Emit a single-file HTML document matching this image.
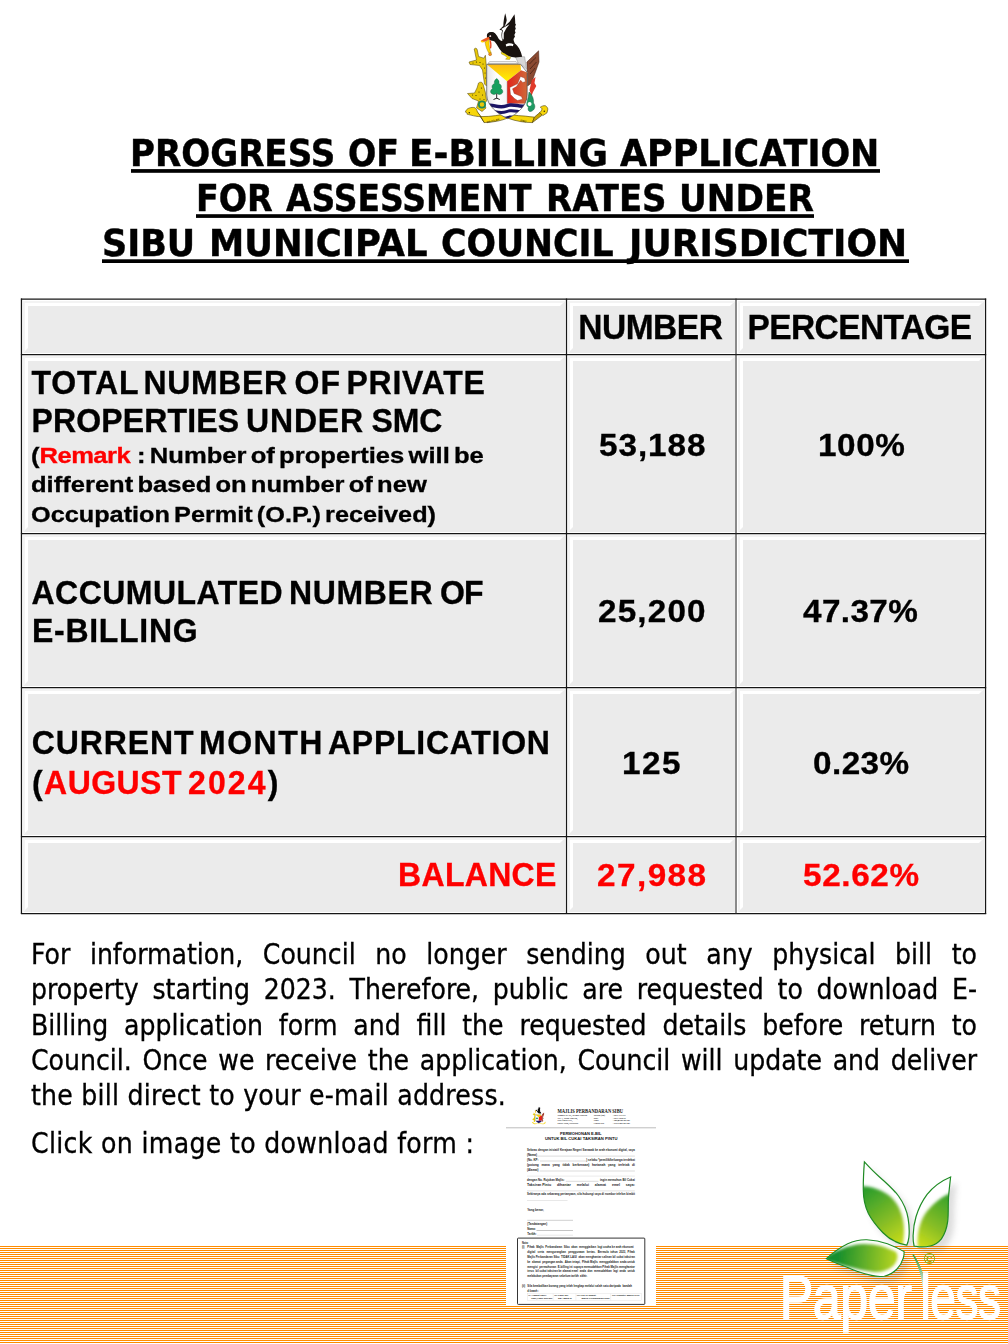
<!DOCTYPE html>
<html lang="en"><head><meta charset="utf-8"><title>Progress of E-Billing Application</title>
<style>
html,body{margin:0;padding:0;background:#fff}
body{width:1008px;height:1344px;position:relative;overflow:hidden;color:#000}
.t{position:absolute;white-space:pre;line-height:1;transform-origin:0 50%}
.ls{font-family:'Liberation Sans', Arial, sans-serif;-webkit-text-stroke:.32px currentColor}
.dv{font-family:'DejaVu Sans', 'Liberation Sans', sans-serif;-webkit-text-stroke:.45px #000}
.ttl{position:absolute;left:5px;width:1000px;text-align:center;line-height:1;font-family:'DejaVu Sans', 'Liberation Sans', sans-serif;font-weight:bold;white-space:pre}
.ttl span{display:inline-block;text-decoration:underline;text-decoration-thickness:3.6px;text-underline-offset:3.4px;text-decoration-skip-ink:none}
.cell{position:absolute;box-sizing:border-box;background:#ebebeb;border-style:solid;border-width:6px;border-color:#fff #ebebeb #ebebeb #fff}
.cell::before{content:'';position:absolute;left:-6px;top:-6px;right:-6px;bottom:-6px;border:1px solid #fff}
.cell::after{content:'';position:absolute;left:-5px;top:-5px;right:-5px;bottom:-5px;border-style:solid;border-width:2px;border-color:#f3f3f3 transparent transparent #f3f3f3}
.grid line{stroke:#161616;stroke-width:1.25}
.p{position:absolute;left:30.8px;width:946px;line-height:1;font-family:'DejaVu Sans Condensed', 'DejaVu Sans', 'Liberation Sans', sans-serif;white-space:nowrap;will-change:transform;-webkit-text-stroke:.3px #000}
.p.j{text-align:justify;text-align-last:justify;white-space:normal}
.stripes{position:absolute;left:0;top:1246px;width:1008px;height:98px;background:repeating-linear-gradient(to bottom,#ff8c00 0,#ff8c00 1px,#fff 1px,#fff 2px)}
.lay{position:absolute;left:0;top:0;width:1008px;height:1344px;will-change:transform}
svg{position:absolute;overflow:visible}
</style></head>
<body>
<div class="stripes"></div>
<svg class="crest" style="left:0;top:0" width="1008" height="135" viewBox="0 0 1008 135">
<defs>
<linearGradient id="cy" x1="0" y1="0" x2="0" y2="1"><stop offset="0" stop-color="#fdb913"/><stop offset="1" stop-color="#fff200"/></linearGradient>
<linearGradient id="cr" x1="0" y1="0" x2="1" y2="0"><stop offset="0" stop-color="#e2231a"/><stop offset="1" stop-color="#cf6a3a"/></linearGradient>
<linearGradient id="cw" x1="0" y1="0" x2="1" y2="0"><stop offset="0" stop-color="#e4e4e4"/><stop offset=".5" stop-color="#fff"/><stop offset="1" stop-color="#f4f4f4"/></linearGradient>
<clipPath id="shc"><path d="M486.7 64.3H520.6L527.2 72.3V95C527 106 517 114 507.6 118.6C498 114 487 106 486.7 95Z"/></clipPath>
</defs>
<!-- ribbon -->
<g fill="#f7d60a" stroke="#3a3000" stroke-width=".55" stroke-linejoin="round">
<path d="M476.500 111.200L484.300 122.600L480.800 116.600Z" fill="#c9a400"/>
<path d="M465.400 112.100C466 110 467.300 108.700 468.900 108.200C471 107.300 473.200 107.200 474.800 107.700C476.200 108.700 477 110 477.300 111.600L480.800 116.600C477.500 116.700 474 116 470.900 115.100C469.300 114.800 468 114.500 466.900 114.100C467.300 113.300 467.200 112.600 465.400 112.100Z"/>
<path d="M480.800 116.600C486 116.700 491 116.300 495.700 115.600C498.500 115.200 501.200 114.700 503.600 114.100L507.600 118.100C504.500 119.400 501.200 120.400 497.700 121.100C493.300 122 488.800 122.500 484.300 122.600Z"/>
<path d="M511.600 114.600C516 115.500 520.800 116 525.400 116.100C528.500 116.600 531.500 116.900 534.400 117.100L532.400 122.600C528.300 122.600 524.300 122.300 520.500 121.600C516 120.800 511.600 119.600 507.600 118.100Z"/>
<path d="M534.400 117.100L540.300 112.100L542.300 115.100L532.400 122.600Z" fill="#c9a400"/>
<path d="M540.300 107.200C541.800 106 543.600 105.500 545.300 105.700C546.800 106.500 547.700 107.700 547.800 109.200C547.700 110.600 547.300 111.900 546.800 113.100L542.800 115.600L539.800 112.600C541 111.500 541.800 110.200 542 108.800C541.600 108.100 541 107.500 540.300 107.200Z"/>
</g>
<circle cx="469.300" cy="112.800" r=".8" fill="#3a3000"/><circle cx="544.300" cy="111.300" r=".8" fill="#3a3000"/>
<!-- left supporter (gold kris / ornament) -->
<g fill="#e8c80a" stroke="#4a3c00" stroke-width=".5">
<path d="M474.2 49C475 47.5 477 48 477.3 50L478.6 56.5L483.8 58.2L485.4 55.3L486.3 66L486.5 86L484.5 84L482.5 70L479.5 65.5L470 64.5L469 62L476.5 60Z"/>
<path d="M478.5 83C480 81.5 482.5 82 483 84L485.3 92L486.6 101L484 104L486 108L482 111.5L476.5 108L478.5 101L472 98.5L467.5 93.5L474.5 93L477 88Z"/>
</g>
<g fill="#3a3000"><circle cx="476.5" cy="62" r=".6"/><circle cx="480" cy="62.5" r=".55"/><circle cx="483" cy="64" r=".6"/><circle cx="484.5" cy="68" r=".55"/><circle cx="485" cy="73" r=".5"/><circle cx="485.5" cy="78" r=".5"/><circle cx="473" cy="63" r=".5"/><circle cx="481.5" cy="88" r=".6"/><circle cx="479" cy="92" r=".6"/><circle cx="476" cy="95.5" r=".55"/><circle cx="482.5" cy="95" r=".55"/><circle cx="472.5" cy="95" r=".5"/><circle cx="480" cy="99" r=".55"/><circle cx="484" cy="99.5" r=".5"/></g>
<circle cx="482" cy="104.5" r="3.2" fill="none" stroke="#1f8a5a" stroke-width="1.7"/><circle cx="482" cy="104.5" r="1.2" fill="#e8c80a"/>
<!-- right: paddle + plant -->
<path d="M526.9 62L538.6 50.8L539 62L531.5 83L527.6 86Z" fill="#8a4a32" stroke="#3a1a10" stroke-width=".5"/>
<path d="M529.5 64c2-2 4.5-5 6.5-6.5M530 69c2-2 4.500-5 6.5-7M530 74c1.500-1.500 3.500-4 5-6" fill="none" stroke="#3a1a10" stroke-width=".7"/>
<path d="M531.8 80L535.5 77L534.5 83L536.3 86L533 92L531.5 96L529.5 90Z" fill="#e03a2a"/>
<path d="M529 92C531.500 94 534 98 533.500 103C536 106 535 110 531 111.500C528.500 112 527.500 109.500 528.500 107C527 104 527 100 528.300 97Z" fill="#1f9a64" stroke="#0a4a2a" stroke-width=".4"/>
<circle cx="529.6" cy="104" r="2.6" fill="#fff" stroke="#1f9a64" stroke-width="1.2"/>
<!-- shield -->
<path d="M489.5 61.7H516.2L518 63.6H488Z" fill="#fff" stroke="#555" stroke-width=".4"/>
<path d="M486.7 64.3H520.6L527.2 72.3V95C527 106 517 114 507.600 118.600C498 114 487 106 486.700 95Z" fill="#fff"/>
<g clip-path="url(#shc)">
<rect x="486" y="64" width="22" height="42" fill="url(#cw)"/>
<path d="M486.700 64.300H520.600L521 70.300L507.100 81.300Z" fill="url(#cy)"/>
<path d="M507.100 81.300L521 70.300L527.500 72.500V104H507.100Z" fill="url(#cr)"/>
<rect x="486" y="103.600" width="42" height="16" fill="#fff"/>
<path d="M486 104.500C492 101.500 498 107 507 104C514 101.500 521 106.500 528 103.500V107C521 110 514 105 507 107.500C498 110.500 492 105 486 108Z" fill="#1b1464"/>
<path d="M486 110.500C492 107.500 498 113 507 110C514 107.500 521 112.500 528 109.500V112.500C521 115.500 514 110.500 507 113C498 116 492 110.500 486 113.500Z" fill="#1b1464"/>
<path d="M495 117C500 114.500 503 118 508 116C512 114.500 516 117 520 115.500V118.500H495Z" fill="#1b1464"/>
</g>
<path d="M486.700 64.300H520.600L527.200 72.300V95C527 106 517 114 507.600 118.600C498 114 487 106 486.700 95Z" fill="none" stroke="#333" stroke-width=".6"/>
<path d="M507.100 81.300V104" stroke="#888" stroke-width=".4"/>
<!-- tree -->
<path d="M496.700 78.500C499 80 499.500 82 498.800 83.500C501.500 84.500 502 87 500.800 88.500C503.500 90 503.500 93.500 500.500 94.200C498.500 94.800 497.600 94 496.700 93.300C495.800 94 494.900 94.800 492.900 94.200C489.900 93.500 489.900 90 492.600 88.500C491.400 87 491.900 84.500 494.600 83.500C493.900 82 494.400 80 496.700 78.500Z" fill="#17a05e" stroke="#0a5a30" stroke-width=".4"/>
<path d="M496.700 93.500V98.500M496.700 98.200L493.500 99.500M496.700 98.200L499.800 99.500" stroke="#222" stroke-width="1" fill="none"/>
<!-- white figure on red -->
<path d="M520.500 76.500L524.500 78L525.500 81.500L522.800 82.500L520.600 80.200L516.500 86.500L512.500 88.800L514.200 93.500L521.500 96.500L522.500 99.200L517.500 100.500L514.500 98.500L510.500 94.500L509.800 87.500L517.500 83.800L519.500 79Z" fill="#fff" stroke="#7a2a1a" stroke-width=".35"/>
<!-- hornbill -->
<g>
<path d="M515.200 56.500L524.600 56.800L526.500 69L521.500 64.500L518.500 63.500Z" fill="#d8d8d8" stroke="#777" stroke-width=".4"/>
<path d="M505.200 13.200C505.900 15.500 506.500 17.800 506.700 20.200C506.300 22.500 505.300 24.800 504.300 26.800L509.800 21.500L514.500 14.200C515 17.500 515.300 20.500 515.200 23.500L515.900 24.200L515.100 27L515.800 28.200L514.800 31L515.600 32.200L514.300 35L515 36.400L513.500 39L513.800 41L514.800 43.500C518.200 45.800 521 51 522.200 56.800L515.500 57.500C511 57 505 55.500 501.500 51.500C498.500 48.500 497.500 44.500 494.500 41.500C493 40.800 491 40.800 489.800 40L487 37.500C486.500 34.500 488.500 32.300 491.500 32.300C494.500 32.300 497 35 498.500 38.500C499.800 40.200 501.300 41.200 502.500 40.800C501.300 37.500 501 33.500 502.300 30.500L499.400 29.800L503.300 26C503.400 21.500 504.200 17 505.200 13.200Z" fill="#18120f"/>
<path d="M501.200 29L509.500 24.200L506.500 28L503.800 33L503.700 39.300L502.600 39.500C501.800 36.500 502 33 503 30.500Z" fill="#fff"/>
<path d="M505.700 44.500C508 42.800 511.500 43 513.500 44.300L512.800 46.200C510.500 45.600 508 45.800 506.200 46.500Z" fill="#fff"/>
<ellipse cx="491.300" cy="35.600" rx="4.400" ry="3.600" fill="#18120f"/><circle cx="490.300" cy="36.200" r=".9" fill="#fff"/><circle cx="490.300" cy="36.200" r=".4" fill="#c33"/>
<path d="M488.700 36.800C486.500 37.800 483.500 39.500 481 40.500C481.500 42 483 42.300 484.500 41.800C486.500 41.200 488.200 40.200 489.700 39Z" fill="#f15a22"/>
<path d="M481 40.500C480.300 41.500 481 42.600 482.500 42.500L485 42Z" fill="#ffd400"/>
<path d="M485 42C485.500 46 486.800 50 489 53.500L491.300 53C489.500 49.500 489 45 489.300 41.200C489.600 40 489.300 39.300 488.300 40Z" fill="#ffd400" stroke="#6a5200" stroke-width=".3"/>
<path d="M489.500 40.500C490.300 43 490.300 46 489.900 48.500L491.200 48.300C491.800 45.500 491.500 42.500 490.800 40.300Z" fill="#e8431f"/>
<circle cx="490.100" cy="54.200" r="1.500" fill="#f7941d" stroke="#6a3a00" stroke-width=".3"/>
<path d="M501.200 52L504.800 53.500L507.500 55.500L510.800 57.500L509.500 59.500L505.500 59.200L507.200 57.500L504.800 55.500L501.500 54Z" fill="#f0d80a" stroke="#5a4a00" stroke-width=".3"/>
</g>
<text x="487" y="123.200" font-family="'Liberation Sans',sans-serif" font-size="2.600" font-weight="bold" fill="#4a3c00" transform="rotate(-14 487 123.200)">MAJULAH</text>
<text x="520" y="121.200" font-family="'Liberation Sans',sans-serif" font-size="2.600" font-weight="bold" fill="#4a3c00" transform="rotate(12 520 121.200)">SIBU</text>
</svg>

<div class="lay">
<div class="t dv" style="left:130.49px;top:135.81px;font-size:36.4px;font-weight:bold;transform:scaleX(0.9362);transform-origin:0 84.6%;">PROGRESS</div>
<div class="t dv" style="left:347.99px;top:135.81px;font-size:36.4px;font-weight:bold;transform:scaleX(0.9146);transform-origin:0 84.6%;">OF</div>
<div class="t dv" style="left:408.74px;top:135.81px;font-size:36.4px;font-weight:bold;transform:scaleX(0.9872);transform-origin:0 84.6%;">E-BILLING</div>
<div class="t dv" style="left:620.00px;top:135.81px;font-size:36.4px;font-weight:bold;transform:scaleX(0.9605);transform-origin:0 84.6%;">APPLICATION</div>
<div class="t dv" style="left:196.25px;top:180.81px;font-size:36.4px;font-weight:bold;transform:scaleX(0.9159);transform-origin:0 84.6%;">FOR</div>
<div class="t dv" style="left:286.00px;top:180.81px;font-size:36.4px;font-weight:bold;transform:scaleX(0.9059);transform-origin:0 84.6%;">ASSESSMENT</div>
<div class="t dv" style="left:546.30px;top:180.81px;font-size:36.4px;font-weight:bold;transform:scaleX(0.9328);transform-origin:0 84.6%;">RATES</div>
<div class="t dv" style="left:679.17px;top:180.81px;font-size:36.4px;font-weight:bold;transform:scaleX(0.9424);transform-origin:0 84.6%;">UNDER</div>
<div class="t dv" style="left:102.08px;top:225.91px;font-size:36.4px;font-weight:bold;transform:scaleX(0.9601);transform-origin:0 84.6%;">SIBU</div>
<div class="t dv" style="left:209.08px;top:225.91px;font-size:36.4px;font-weight:bold;transform:scaleX(0.9725);transform-origin:0 84.6%;">MUNICIPAL</div>
<div class="t dv" style="left:440.95px;top:225.91px;font-size:36.4px;font-weight:bold;transform:scaleX(0.9528);transform-origin:0 84.6%;">COUNCIL</div>
<div class="t dv" style="left:629.27px;top:225.91px;font-size:36.4px;font-weight:bold;transform:scaleX(0.9897);transform-origin:0 84.6%;">JURISDICTION</div>
<svg class="ul" style="left:0;top:160px" width="1008" height="110" viewBox="0 160 1008 110"><rect x="131" y="169.100" width="749" height="3.700"/><rect x="196" y="214.200" width="618" height="3.700"/><rect x="102" y="259.300" width="807" height="3.700"/></svg>
<div class="cell" style="left:22px;top:300px;width:544px;height:54px"></div>
<div class="cell" style="left:567px;top:300px;width:169px;height:54px"></div>
<div class="cell" style="left:737px;top:300px;width:248px;height:54px"></div>
<div class="cell" style="left:22px;top:355px;width:544px;height:178px"></div>
<div class="cell" style="left:567px;top:355px;width:169px;height:178px"></div>
<div class="cell" style="left:737px;top:355px;width:248px;height:178px"></div>
<div class="cell" style="left:22px;top:534px;width:544px;height:153px"></div>
<div class="cell" style="left:567px;top:534px;width:169px;height:153px"></div>
<div class="cell" style="left:737px;top:534px;width:248px;height:153px"></div>
<div class="cell" style="left:22px;top:688px;width:544px;height:148px"></div>
<div class="cell" style="left:567px;top:688px;width:169px;height:148px"></div>
<div class="cell" style="left:737px;top:688px;width:248px;height:148px"></div>
<div class="cell" style="left:22px;top:837px;width:544px;height:76px"></div>
<div class="cell" style="left:567px;top:837px;width:169px;height:76px"></div>
<div class="cell" style="left:737px;top:837px;width:248px;height:76px"></div>
<svg class="grid" style="left:0;top:0" width="1008" height="1344" viewBox="0 0 1008 1344"><line x1="20.9" x2="986.2" y1="299.2" y2="299.2"/><line x1="20.9" x2="986.2" y1="354.5" y2="354.5"/><line x1="20.9" x2="986.2" y1="533.5" y2="533.5"/><line x1="20.9" x2="986.2" y1="687.5" y2="687.5"/><line x1="20.9" x2="986.2" y1="836.6" y2="836.6"/><line x1="20.9" x2="986.2" y1="913.5" y2="913.5"/><line y1="298.6" y2="914.1" x1="21.45" x2="21.45"/><line y1="298.6" y2="914.1" x1="566.5" x2="566.5"/><line y1="298.6" y2="914.1" x1="985.55" x2="985.55"/><line y1="298.6" y2="914.1" x1="736" x2="736" style="stroke-width:1.1;stroke:#2a2a2a"/></svg>
<div class="t ls" style="left:578.20px;top:310.64px;font-size:33.5px;font-weight:bold;letter-spacing:-0.466px;transform:scaleY(1.04);transform-origin:0 84.7%;">NUMBER</div>
<div class="t ls" style="left:747.60px;top:310.64px;font-size:33.5px;font-weight:bold;letter-spacing:-0.626px;transform:scaleY(1.04);transform-origin:0 84.7%;">PERCENTAGE</div>
<div class="t ls" style="left:31.50px;top:366.91px;font-size:32px;font-weight:bold;letter-spacing:0.840px;transform:scaleY(1.045);transform-origin:0 84.7%;">TOTAL</div>
<div class="t ls" style="left:143.40px;top:366.91px;font-size:32px;font-weight:bold;letter-spacing:0.654px;transform:scaleY(1.045);transform-origin:0 84.7%;">NUMBER</div>
<div class="t ls" style="left:294.50px;top:366.91px;font-size:32px;font-weight:bold;letter-spacing:1.109px;transform:scaleY(1.045);transform-origin:0 84.7%;">OF</div>
<div class="t ls" style="left:346.50px;top:366.91px;font-size:32px;font-weight:bold;letter-spacing:0.751px;transform:scaleY(1.045);transform-origin:0 84.7%;">PRIVATE</div>
<div class="t ls" style="left:31.40px;top:405.11px;font-size:32px;font-weight:bold;letter-spacing:0.153px;transform:scaleY(1.045);transform-origin:0 84.7%;">PROPERTIES</div>
<div class="t ls" style="left:246.00px;top:405.11px;font-size:32px;font-weight:bold;letter-spacing:0.832px;transform:scaleY(1.045);transform-origin:0 84.7%;">UNDER</div>
<div class="t ls" style="left:371.50px;top:405.11px;font-size:32px;font-weight:bold;letter-spacing:-0.150px;transform:scaleY(1.045);transform-origin:0 84.7%;">SMC</div>
<div class="t ls" style="left:31.3px;top:444.30px;font-size:22.8px;font-weight:bold;word-spacing:-2.6px;transform:scaleX(1.1235);">(<span style="color:#fe0000;letter-spacing:-.5px;margin-right:2.4px">Remark</span> : Number of properties will be</div>
<div class="t ls" style="left:31.3px;top:473.20px;font-size:22.8px;font-weight:bold;word-spacing:-2.6px;transform:scaleX(1.121);">different based on number of new</div>
<div class="t ls" style="left:31.3px;top:502.60px;font-size:22.8px;font-weight:bold;word-spacing:-2.6px;transform:scaleX(1.108);">Occupation Permit (O.P.) received)</div>
<div class="t ls" style="left:31.50px;top:576.71px;font-size:32px;font-weight:bold;letter-spacing:0.463px;transform:scaleY(1.045);transform-origin:0 84.7%;">ACCUMULATED</div>
<div class="t ls" style="left:289.00px;top:576.71px;font-size:32px;font-weight:bold;letter-spacing:0.634px;transform:scaleY(1.045);transform-origin:0 84.7%;">NUMBER</div>
<div class="t ls" style="left:440.00px;top:576.71px;font-size:32px;font-weight:bold;letter-spacing:-0.891px;transform:scaleY(1.045);transform-origin:0 84.7%;">OF</div>
<div class="t ls" style="left:32.00px;top:614.81px;font-size:32px;font-weight:bold;letter-spacing:0.713px;transform:scaleY(1.045);transform-origin:0 84.7%;">E-BILLING</div>
<div class="t ls" style="left:31.70px;top:727.11px;font-size:32px;font-weight:bold;letter-spacing:0.918px;transform:scaleY(1.045);transform-origin:0 84.7%;">CURRENT</div>
<div class="t ls" style="left:199.00px;top:727.11px;font-size:32px;font-weight:bold;letter-spacing:1.499px;transform:scaleY(1.045);transform-origin:0 84.7%;">MONTH</div>
<div class="t ls" style="left:328.00px;top:727.11px;font-size:32px;font-weight:bold;letter-spacing:0.739px;transform:scaleY(1.045);transform-origin:0 84.7%;">APPLICATION</div>
<div class="t ls" style="left:31.90px;top:766.71px;font-size:32px;font-weight:bold;transform:scaleY(1.045);transform-origin:0 84.7%;">(</div>
<div class="t ls" style="left:44.10px;top:766.71px;font-size:32px;font-weight:bold;letter-spacing:0.448px;transform:scaleY(1.045);transform-origin:0 84.7%;color:#fe0000;">AUGUST</div>
<div class="t ls" style="left:188.00px;top:766.71px;font-size:32px;font-weight:bold;letter-spacing:2.136px;transform:scaleY(1.045);transform-origin:0 84.7%;color:#fe0000;">2024</div>
<div class="t ls" style="left:267.70px;top:766.71px;font-size:32px;font-weight:bold;transform:scaleY(1.045);transform-origin:0 84.7%;">)</div>
<div class="t ls" style="left:398.10px;top:858.81px;font-size:32px;font-weight:bold;letter-spacing:0.301px;transform:scaleY(1.02);transform-origin:0 84.7%;color:#fe0000;">BALANCE</div>
<div class="t ls" style="left:598.60px;top:428.61px;font-size:32px;font-weight:bold;letter-spacing:0.911px;transform:scaleX(1.0400);transform-origin:0 84.7%;">53,188</div>
<div class="t ls" style="left:817.92px;top:428.61px;font-size:32px;font-weight:bold;letter-spacing:0.556px;transform:scaleX(1.0400);transform-origin:0 84.7%;">100%</div>
<div class="t ls" style="left:597.56px;top:594.71px;font-size:32px;font-weight:bold;letter-spacing:1.111px;transform:scaleX(1.0400);transform-origin:0 84.7%;">25,200</div>
<div class="t ls" style="left:803.20px;top:594.71px;font-size:32px;font-weight:bold;letter-spacing:0.365px;transform:scaleX(1.0400);transform-origin:0 84.7%;">47.37%</div>
<div class="t ls" style="left:621.52px;top:746.71px;font-size:32px;font-weight:bold;letter-spacing:1.482px;transform:scaleX(1.0400);transform-origin:0 84.7%;">125</div>
<div class="t ls" style="left:812.96px;top:746.71px;font-size:32px;font-weight:bold;letter-spacing:0.420px;transform:scaleX(1.0400);transform-origin:0 84.7%;">0.23%</div>
<div class="t ls" style="left:596.76px;top:858.81px;font-size:32px;font-weight:bold;letter-spacing:1.400px;transform:scaleX(1.0400);transform-origin:0 84.7%;color:#fe0000;">27,988</div>
<div class="t ls" style="left:803.30px;top:858.81px;font-size:32px;font-weight:bold;letter-spacing:0.615px;transform:scaleX(1.0400);transform-origin:0 84.7%;color:#fe0000;">52.62%</div>
<div class="p j" style="top:940.91px;font-size:28px">For information, Council no longer sending out any physical bill to</div>
<div class="p j" style="top:976.21px;font-size:28px">property starting 2023. Therefore, public are requested to download E-</div>
<div class="p j" style="top:1011.61px;font-size:28px">Billing application form and fill the requested details before return to</div>
<div class="p j" style="top:1046.91px;font-size:28px">Council. Once we receive the application, Council will update and deliver</div>
<div class="p" style="top:1082.21px;font-size:28px;letter-spacing:0.24px">the bill direct to your e-mail address.</div>
<div class="p" style="top:1130.11px;font-size:28px;letter-spacing:0.34px">Click on image to download form :</div>
</div>
<svg class="form" style="left:0;top:1095px" width="1008" height="215" viewBox="0 1095 1008 215">
<rect x="506" y="1099" width="150" height="206.500" fill="#fff"/>
<text x="557.5" y="1113.1" font-family="'Liberation Serif',serif" font-size="5.2" fill="#111" font-weight="bold" textLength="65.5" lengthAdjust="spacingAndGlyphs">MAJLIS PERBANDARAN SIBU</text>
<text x="557.5" y="1115.9" font-family="'Liberation Serif',serif" font-size="2.4" fill="#333" font-weight="bold" textLength="29.5" lengthAdjust="spacingAndGlyphs">Tingkat 23-24, Wisma Sanyan</text>
<text x="593.7" y="1115.9" font-family="'Liberation Serif',serif" font-size="2.4" fill="#333" font-weight="bold" textLength="11.2" lengthAdjust="spacingAndGlyphs">Telefon (am)</text>
<text x="612.7" y="1115.9" font-family="'Liberation Serif',serif" font-size="2.4" fill="#333" font-weight="bold" textLength="13" lengthAdjust="spacingAndGlyphs">: 084-333411</text>
<text x="557.5" y="1118.5" font-family="'Liberation Serif',serif" font-size="2.4" fill="#333" font-weight="bold" textLength="20" lengthAdjust="spacingAndGlyphs">No. 1, Jalan Sanyan,</text>
<text x="593.7" y="1118.5" font-family="'Liberation Serif',serif" font-size="2.4" fill="#333" font-weight="bold" textLength="4.5" lengthAdjust="spacingAndGlyphs">Faks</text>
<text x="612.7" y="1118.5" font-family="'Liberation Serif',serif" font-size="2.4" fill="#333" font-weight="bold" textLength="13" lengthAdjust="spacingAndGlyphs">: 084-320240</text>
<text x="557.5" y="1121.1" font-family="'Liberation Serif',serif" font-size="2.4" fill="#333" font-weight="bold" textLength="15" lengthAdjust="spacingAndGlyphs">Peti Surat 557,</text>
<text x="593.7" y="1121.1" font-family="'Liberation Serif',serif" font-size="2.4" fill="#333" font-weight="bold" textLength="5" lengthAdjust="spacingAndGlyphs">Emel</text>
<text x="612.7" y="1121.1" font-family="'Liberation Serif',serif" font-size="2.4" fill="#333" font-weight="bold" textLength="17.5" lengthAdjust="spacingAndGlyphs">: smc@smc.gov.my</text>
<text x="557.5" y="1123.7" font-family="'Liberation Serif',serif" font-size="2.4" fill="#333" font-weight="bold" textLength="21" lengthAdjust="spacingAndGlyphs">96007 Sibu, Sarawak.</text>
<text x="593.7" y="1123.7" font-family="'Liberation Serif',serif" font-size="2.4" fill="#333" font-weight="bold" textLength="10.5" lengthAdjust="spacingAndGlyphs">Laman Web</text>
<text x="612.7" y="1123.7" font-family="'Liberation Serif',serif" font-size="2.4" fill="#333" font-weight="bold" textLength="17.5" lengthAdjust="spacingAndGlyphs">: www.smc.gov.my</text>
<rect x="506" y="1127.300" width="150" height="1" fill="#bcbcbc"/>
<text x="580.8" y="1134.9" font-family="'Liberation Sans',sans-serif" font-size="3.7" fill="#111" font-weight="bold" textLength="41.6" lengthAdjust="spacingAndGlyphs" text-anchor="middle">PERMOHONAN E-BIL</text>
<text x="581.2" y="1140.2" font-family="'Liberation Sans',sans-serif" font-size="3.7" fill="#111" font-weight="bold" textLength="72.6" lengthAdjust="spacingAndGlyphs" text-anchor="middle">UNTUK BIL CUKAI TAKSIRAN PINTU</text>
<text x="527" y="1150.7" font-family="'Liberation Sans',sans-serif" font-size="3.3" fill="#222" font-weight="bold" textLength="107.89999999999998" lengthAdjust="spacingAndGlyphs">Selaras dengan inisiatif Kerajaan Negeri Sarawak ke arah ekonomi digital, saya</text>
<text x="527" y="1155.8" font-family="'Liberation Sans',sans-serif" font-size="3.3" fill="#222" font-weight="bold" textLength="10" lengthAdjust="spacingAndGlyphs">(Nama)</text>
<line x1="537.2" x2="634.9" y1="1156.1" y2="1156.1" stroke="#999" stroke-width="0.35"/>
<text x="527" y="1160.7" font-family="'Liberation Sans',sans-serif" font-size="3.3" fill="#222" font-weight="bold" textLength="11.5" lengthAdjust="spacingAndGlyphs">(No. KP:</text>
<line x1="540" x2="586" y1="1161" y2="1161" stroke="#999" stroke-width="0.35"/>
<text x="586.3" y="1160.7" font-family="'Liberation Sans',sans-serif" font-size="3.3" fill="#222" font-weight="bold" textLength="48.60000000000002" lengthAdjust="spacingAndGlyphs">) selaku *pemilik/keluarga terdekat</text>
<text x="527" y="1165.9" font-family="'Liberation Sans',sans-serif" font-size="3.3" fill="#222" font-weight="bold" textLength="107.89999999999998" lengthAdjust="spacingAndGlyphs" xml:space="preserve">(potong   mana   yang   tidak   berkenaan)   hartanah   yang   terletak   di</text>
<text x="527" y="1170.7" font-family="'Liberation Sans',sans-serif" font-size="3.3" fill="#222" font-weight="bold" textLength="11.5" lengthAdjust="spacingAndGlyphs">(Alamat)</text>
<line x1="539.6" x2="634.9" y1="1171" y2="1171" stroke="#999" stroke-width="0.35"/>
<line x1="527" x2="634.9" y1="1176.1" y2="1176.1" stroke="#c4c4c4" stroke-width="0.35"/>
<text x="527" y="1181" font-family="'Liberation Sans',sans-serif" font-size="3.3" fill="#222" font-weight="bold" textLength="37.5" lengthAdjust="spacingAndGlyphs">dengan No. Rujukan Majlis:</text>
<line x1="565.8" x2="598.5" y1="1181.3" y2="1181.3" stroke="#999" stroke-width="0.35"/>
<text x="600" y="1181" font-family="'Liberation Sans',sans-serif" font-size="3.3" fill="#222" font-weight="bold" textLength="34.89999999999998" lengthAdjust="spacingAndGlyphs">ingin memohon Bil Cukai</text>
<text x="527" y="1185.8" font-family="'Liberation Sans',sans-serif" font-size="3.3" fill="#222" font-weight="bold" textLength="107.89999999999998" lengthAdjust="spacingAndGlyphs" xml:space="preserve">Taksiran Pintu      dihantar      melalui      alamat      emel      saya:</text>
<line x1="527" x2="634.9" y1="1190.9" y2="1190.9" stroke="#aaa" stroke-width="0.35"/>
<text x="527" y="1195.1" font-family="'Liberation Sans',sans-serif" font-size="3.3" fill="#222" font-weight="bold" textLength="107.89999999999998" lengthAdjust="spacingAndGlyphs">Sekiranya ada sebarang pertanyaan, sila hubungi saya di nombor telefon bimbit</text>
<line x1="527" x2="567.5" y1="1200.5" y2="1200.5" stroke="#bbb" stroke-width="0.35"/>
<text x="527.3" y="1210.8" font-family="'Liberation Sans',sans-serif" font-size="3.3" fill="#222" font-weight="bold" textLength="16.4" lengthAdjust="spacingAndGlyphs">Yang benar,</text>
<line x1="527.3" x2="573" y1="1220.3" y2="1220.3" stroke="#777" stroke-width="0.35"/>
<text x="527.3" y="1225.4" font-family="'Liberation Sans',sans-serif" font-size="3.3" fill="#222" font-weight="bold" textLength="19.8" lengthAdjust="spacingAndGlyphs">(Tandatangan)</text>
<text x="527.3" y="1230.2" font-family="'Liberation Sans',sans-serif" font-size="3.3" fill="#222" font-weight="bold" textLength="8.5" lengthAdjust="spacingAndGlyphs">Nama:</text>
<line x1="536.5" x2="573" y1="1230.5" y2="1230.5" stroke="#555" stroke-width="0.35"/>
<text x="527.3" y="1234.9" font-family="'Liberation Sans',sans-serif" font-size="3.3" fill="#222" font-weight="bold" textLength="9.2" lengthAdjust="spacingAndGlyphs">Tarikh:</text>
<line x1="537" x2="573" y1="1235.2" y2="1235.2" stroke="#bbb" stroke-width="0.35"/>
<rect x="517.500" y="1238.100" width="127.300" height="66.300" rx=".8" fill="#fff" stroke="#111" stroke-width=".85"/>
<text x="521.9" y="1243.7" font-family="'Liberation Sans',sans-serif" font-size="3.3" fill="#222" font-weight="bold" textLength="6.6" lengthAdjust="spacingAndGlyphs">Nota:</text>
<text x="521.9" y="1248.4" font-family="'Liberation Sans',sans-serif" font-size="3.3" fill="#222" font-weight="bold" textLength="2.6" lengthAdjust="spacingAndGlyphs">(i)</text>
<text x="527.3" y="1248.4" font-family="'Liberation Sans',sans-serif" font-size="3.3" fill="#222" font-weight="bold" textLength="106.30000000000003" lengthAdjust="spacingAndGlyphs" xml:space="preserve">Pihak  Majlis  Perbandaran  Sibu  akan  menggiatkan  lagi usaha ke arah ekonomi</text>
<text x="527.3" y="1253.2" font-family="'Liberation Sans',sans-serif" font-size="3.3" fill="#222" font-weight="bold" textLength="107.60000000000002" lengthAdjust="spacingAndGlyphs" xml:space="preserve">digital   serta   mengurangkan   penggunaan   kertas.   Bermula  tahun  2023,  Pihak</text>
<text x="527.3" y="1257.9" font-family="'Liberation Sans',sans-serif" font-size="3.3" fill="#222" font-weight="bold" textLength="107.60000000000002" lengthAdjust="spacingAndGlyphs" xml:space="preserve">Majlis Perbandaran Sibu  TIDAK LAGI  akan menghantar salinan bil cukai taksiran</text>
<text x="527.3" y="1262.7" font-family="'Liberation Sans',sans-serif" font-size="3.3" fill="#222" font-weight="bold" textLength="107.60000000000002" lengthAdjust="spacingAndGlyphs" xml:space="preserve">ke  alamat  pegangan anda.  Akan tetapi,  Pihak Majlis  menggalakkan  anda untuk</text>
<text x="527.3" y="1267.5" font-family="'Liberation Sans',sans-serif" font-size="3.3" fill="#222" font-weight="bold" textLength="107.60000000000002" lengthAdjust="spacingAndGlyphs" xml:space="preserve">mengisi  permohonan  E-billing ini supaya memudahkan Pihak Majlis menghantar</text>
<text x="527.3" y="1272.2" font-family="'Liberation Sans',sans-serif" font-size="3.3" fill="#222" font-weight="bold" textLength="107.60000000000002" lengthAdjust="spacingAndGlyphs" xml:space="preserve">terus  bil cukai taksiran ke alamat emel  anda  dan  memudahkan  lagi  anda  untuk</text>
<text x="527.3" y="1277.3" font-family="'Liberation Sans',sans-serif" font-size="3.3" fill="#222" font-weight="bold" textLength="60" lengthAdjust="spacingAndGlyphs" xml:space="preserve">melakukan pembayaran sebelum tarikh  akhir.</text>
<text x="521.9" y="1287" font-family="'Liberation Sans',sans-serif" font-size="3.3" fill="#222" font-weight="bold" textLength="3.3" lengthAdjust="spacingAndGlyphs">(ii)</text>
<text x="527.3" y="1287" font-family="'Liberation Sans',sans-serif" font-size="3.3" fill="#222" font-weight="bold" textLength="104.7" lengthAdjust="spacingAndGlyphs" xml:space="preserve">Sila kembalikan borang yang telah lengkap melalui salah satu daripada  kaedah</text>
<text x="527.3" y="1291.7" font-family="'Liberation Sans',sans-serif" font-size="3.3" fill="#222" font-weight="bold" textLength="11.5" lengthAdjust="spacingAndGlyphs">di bawah :</text>
<rect x="527.300" y="1293.700" width="114.300" height="6.600" fill="#fff" stroke="#cfcfcf" stroke-width=".3"/>
<line x1="553.2" x2="553.2" y1="1293.700" y2="1300.300" stroke="#cfcfcf" stroke-width=".3"/>
<line x1="575.9" x2="575.9" y1="1293.700" y2="1300.300" stroke="#cfcfcf" stroke-width=".3"/>
<line x1="610.6" x2="610.6" y1="1293.700" y2="1300.300" stroke="#cfcfcf" stroke-width=".3"/>
<text x="528.2" y="1296.3" font-family="'Liberation Sans',sans-serif" font-size="2.5" fill="#222" font-weight="bold" textLength="18.5" lengthAdjust="spacingAndGlyphs">(i) Alamat emel:</text>
<text x="531.3" y="1299.4" font-family="'Liberation Sans',sans-serif" font-size="2.5" fill="#222" font-weight="bold" textLength="21" lengthAdjust="spacingAndGlyphs">smc@smc.gov.my</text>
<text x="554.2" y="1296.3" font-family="'Liberation Sans',sans-serif" font-size="2.5" fill="#222" font-weight="bold" textLength="14.5" lengthAdjust="spacingAndGlyphs">(ii) Faks No:</text>
<text x="558" y="1299.4" font-family="'Liberation Sans',sans-serif" font-size="2.5" fill="#222" font-weight="bold" textLength="13.8" lengthAdjust="spacingAndGlyphs">084-320240</text>
<text x="576.8" y="1296.3" font-family="'Liberation Sans',sans-serif" font-size="2.5" fill="#222" font-weight="bold" textLength="19.5" lengthAdjust="spacingAndGlyphs">(iii) Pos ke alamat:</text>
<text x="581.5" y="1299.4" font-family="'Liberation Sans',sans-serif" font-size="2.5" fill="#222" font-weight="bold" textLength="28" lengthAdjust="spacingAndGlyphs">Majlis Perbandaran Sibu</text>
<text x="612" y="1296.3" font-family="'Liberation Sans',sans-serif" font-size="2.5" fill="#222" font-weight="bold" textLength="27.5" lengthAdjust="spacingAndGlyphs">(iv) Kaunter Majlis UTC</text>
<g transform="translate(531.700 1106.500) scale(.168 .156) translate(-465 -12)">
<path d="M505 13L507 20L504 28L514.500 14L515.500 26L514 34L516 36L514 41L515 44C518 46 521 51 522 57L515 57.500C511 57 505 55.500 501.500 51.500C498.500 48.500 497.500 44.500 494.500 41.500L487 37.500C486.500 34.500 488.500 32.500 491.500 32.500C494.500 32.500 497 35 498.500 38.500L502.500 41C501 37 501 33 502 30.500L499.600 29.500L503.500 25.500Z" fill="#111"/>
<path d="M481 40.500L489 37L490 41L491 53L488.500 53.500L485 42Z" fill="#f7b500"/>
<path d="M474 49L478.500 56.500L485.500 55.500L486.500 66V101L484 104L486 108L482 111.500L476.500 108L478.500 101L467.500 93.500L477 88L482.500 70L470 64.500L476.500 60Z" fill="#e8c80a"/>
<path d="M527 62L538.600 51L539 62L531.500 83L536 86L531.500 96L533.500 103L531 111.500L527.500 107Z" fill="#a03a2a"/>
<path d="M486.700 64.300H520.600L527.200 72.300V95C527 106 517 114 507.600 118.600C498 114 487 106 486.700 95Z" fill="#fff" stroke="#333" stroke-width="1.500"/>
<path d="M486.700 64.300H520.600L521 70.300L507.100 81.300Z" fill="#fdd20a"/>
<path d="M507.100 81.300L521 70.300L527 72.500V96C526 100 524 103 522 104H507.100Z" fill="#e2231a"/>
<circle cx="496.700" cy="88" r="6" fill="#17a05e"/>
<path d="M488 104H526C522 110 515 115 507.600 118.600C500 115 493 110 488 104Z" fill="#1b1464"/>
<path d="M466 111L475.500 114.500L482.500 120.500C490 122.500 500 121 507.600 119.600C515 121 525 122.500 534.300 122.800L540.500 115.500L547.500 108L546.500 118.800L534.800 125.600C525 125 515 123 507.600 121C500 123 490 125 481 125.600L469 118.500Z" fill="#f6d20a"/>
</g>
</svg>
<svg class="logo" style="left:0;top:1150px" width="1008" height="194" viewBox="0 1150 1008 194">
<defs>
<linearGradient id="lg1" gradientUnits="userSpaceOnUse" x1="868" y1="1190" x2="906" y2="1244"><stop offset="0" stop-color="#2f9e2c"/><stop offset=".55" stop-color="#86bd25"/><stop offset="1" stop-color="#cfe01a"/></linearGradient>
<linearGradient id="lg2" gradientUnits="userSpaceOnUse" x1="948" y1="1196" x2="916" y2="1246"><stop offset="0" stop-color="#3aa22b"/><stop offset=".55" stop-color="#86bd25"/><stop offset="1" stop-color="#cfe01a"/></linearGradient>
<linearGradient id="lg3" gradientUnits="userSpaceOnUse" x1="838" y1="1256" x2="902" y2="1262"><stop offset="0" stop-color="#178f2d"/><stop offset=".5" stop-color="#6fb528"/><stop offset="1" stop-color="#c6dc1c"/></linearGradient>
<linearGradient id="lgs" gradientUnits="userSpaceOnUse" x1="0" y1="1255" x2="0" y2="1290"><stop offset="0" stop-color="#3f9b3a"/><stop offset=".5" stop-color="#8fc79a"/><stop offset="1" stop-color="#ffffff"/></linearGradient>
<filter id="b2" x="-20%" y="-20%" width="140%" height="140%"><feGaussianBlur stdDeviation="1.500"/></filter>
<filter id="b4" x="-30%" y="-30%" width="160%" height="160%"><feGaussianBlur stdDeviation="3"/></filter>
<path id="lf1" d="M864.400 1161.900C870 1168 875 1173 879.500 1177C887 1183.500 893.500 1189.500 898.500 1196C903.500 1203 906.800 1210.500 908.100 1218.300C909.200 1225 909.500 1231.500 908.900 1237.300C908.500 1240.500 907.800 1243 906.800 1245.200C897 1243.500 889 1239 882.700 1232.500C877 1226.500 872 1220.500 868.400 1213.500C864.800 1206 863.300 1198 863.300 1189.700C863.200 1180 863.700 1171 864.400 1161.900Z"/>
<path id="lf2" d="M950.600 1177C949.800 1184 949 1191 948.500 1197.600C948 1206 948.600 1214 947.700 1221.400C946.800 1228 944.800 1234 941.400 1238.900C938.500 1242.500 934.800 1245 930.300 1246C926.500 1246.800 922.800 1247 919.200 1246.800L914.100 1246C913.300 1242.500 913 1239 913.100 1235.700C913.300 1229 914.200 1222.500 916 1216.700C918.500 1208.500 922.200 1201 927.100 1194.400C933 1187 941 1181 950.600 1177Z"/>
<path id="lf3" d="M826.300 1258.700C833 1252.500 840 1247.500 847.700 1243.700C854 1240.800 860.300 1239.500 866.800 1239.700C874 1240 880.800 1241.300 887.400 1243.700C893.500 1246 899 1248.600 904.100 1251.600C904.200 1253.800 903.900 1256 903.300 1258C902 1262.500 900 1266 897 1269C893.500 1272.500 889.300 1275 884.300 1276.200C880 1276.800 875.800 1276.500 871.600 1275.400C863 1273.500 855 1271 847.700 1267.500C840 1264.800 833 1261.800 826.300 1258.700Z"/>
<clipPath id="c1"><use href="#lf1"/></clipPath><clipPath id="c2"><use href="#lf2"/></clipPath><clipPath id="c3"><use href="#lf3"/></clipPath>
</defs>
<!-- soft shadows -->
<g opacity=".2" filter="url(#b4)" fill="#555">
<use href="#lf1" transform="translate(5 6)"/><use href="#lf2" transform="translate(6 6)"/><use href="#lf3" transform="translate(5 7)"/>
</g>
<!-- leaf 1 -->
<use href="#lf1" fill="#fff"/>
<g clip-path="url(#c1)"><path d="M860 1186C872 1186 884 1190 893 1199C900 1207 903.500 1217 904 1228C904.300 1236 903.500 1242 902 1248L880 1250L856 1222Z" fill="url(#lg1)" filter="url(#b2)"/></g>
<use href="#lf1" fill="none" stroke="#1f8b24" stroke-width="1.200"/>
<!-- leaf 2 -->
<use href="#lf2" fill="#fff"/>
<g clip-path="url(#c2)"><path d="M953 1192C942 1196 932 1204 925 1214C920 1222 917.500 1232 917.500 1242L918 1250L950 1250L956 1220Z" fill="url(#lg2)" filter="url(#b2)"/></g>
<use href="#lf2" fill="none" stroke="#1f8b24" stroke-width="1.200"/>
<!-- leaf 3 -->
<use href="#lf3" fill="#fff"/>
<g clip-path="url(#c3)"><path d="M822 1259C834 1251 848 1245 862 1244C874 1243.500 886 1246.500 896 1252C899 1256 897 1262 893 1266C888 1270.500 881 1272.500 874 1272C858 1270 840 1265 822 1259Z" fill="url(#lg3)" filter="url(#b2)"/></g>
<use href="#lf3" fill="none" stroke="#1f8b24" stroke-width="1.100"/>
<!-- stem -->
<path d="M912.300 1254.800C917.500 1264 921.500 1275 922.800 1288L925.800 1288C924.500 1274.500 920 1263.500 913.600 1254.300Z" fill="url(#lgs)"/>
<!-- copyright mark -->
<text x="929.500" y="1264" text-anchor="middle" font-family="'Liberation Sans',sans-serif" font-size="15.500" font-weight="bold" fill="#86b325">©</text>
<!-- wordmark -->
<g font-family="'Liberation Sans',sans-serif" font-size="56" fill="#fff" stroke="#fff" stroke-width="1.300" letter-spacing="-.5">
<text x="0" y="0" transform="translate(779.800 1319.200) scale(.897 1.110)">Paper</text>
<text x="0" y="0" transform="translate(920.400 1319.200) scale(.822 1.110)">less</text>
</g>
</svg>

</body></html>
